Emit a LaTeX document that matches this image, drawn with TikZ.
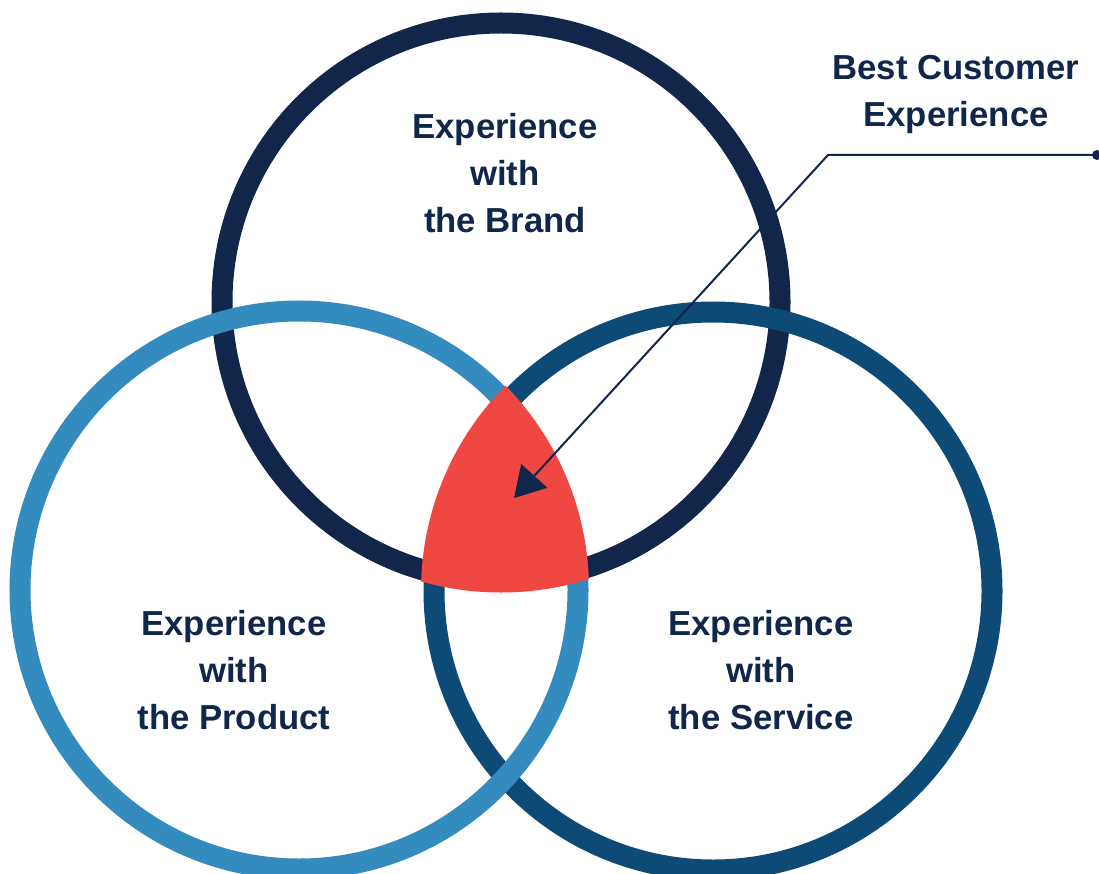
\documentclass[tikz,border=0pt]{standalone}
\usepackage{fontspec}
\setmainfont{Liberation Sans}
\usetikzlibrary{arrows.meta}
\definecolor{navy}{HTML}{12254A}
\definecolor{servblue}{HTML}{0D4A75}
\definecolor{prodblue}{HTML}{348BBE}
\definecolor{bestred}{HTML}{EF4742}
\definecolor{txtc}{HTML}{10264B}
\newcommand\lstrut{\rule[-10pt]{0pt}{40pt}}
\begin{document}
\begin{tikzpicture}[x=1pt,y=-1pt,
  ring/.style={line width=21pt},
  lbl/.style={align=center, font=\fontsize{34.7}{47}\selectfont\bfseries, text=txtc, inner sep=0pt},
  callout/.style={draw=navy, line width=2pt}]
\useasboundingbox (0,0) rectangle (1099,874);
\coordinate (B) at (501,302);
\coordinate (P) at (299,590);
\coordinate (S) at (713,591);
% rings
\draw[ring, navy] (B) circle[radius=279];
\draw[ring, servblue] (S) circle[radius=279];
\draw[ring, prodblue] (P) circle[radius=279];
% intersection
\begin{scope}
  \clip (P) ++(-2,0) circle[radius=292];
  \clip (S) circle[radius=292];
  \fill[bestred] (B) circle[radius=290.5];
\end{scope}
% labels
\node[lbl] (brand) at (505,176) {\lstrut Experience\\ \lstrut with\\ \lstrut the Brand};
\node[lbl] (product) at (234,672) {\lstrut Experience\\ \lstrut with\\ \lstrut the Product};
\node[lbl] (service) at (761,672) {\lstrut Experience\\ \lstrut with\\ \lstrut the Service};
\node[lbl] (best) at (956,93.5) {\lstrut Best Customer\\ \lstrut Experience};
% callout
\coordinate (dot) at (1097,155);
\coordinate (bend) at (828,155);
\coordinate (tip) at (514,498);
\fill[navy] (dot) circle[radius=5];
\draw[callout, -{Triangle[length=30pt,width=35pt]}] (dot) -- (bend) -- (tip);
\end{tikzpicture}
\end{document}
